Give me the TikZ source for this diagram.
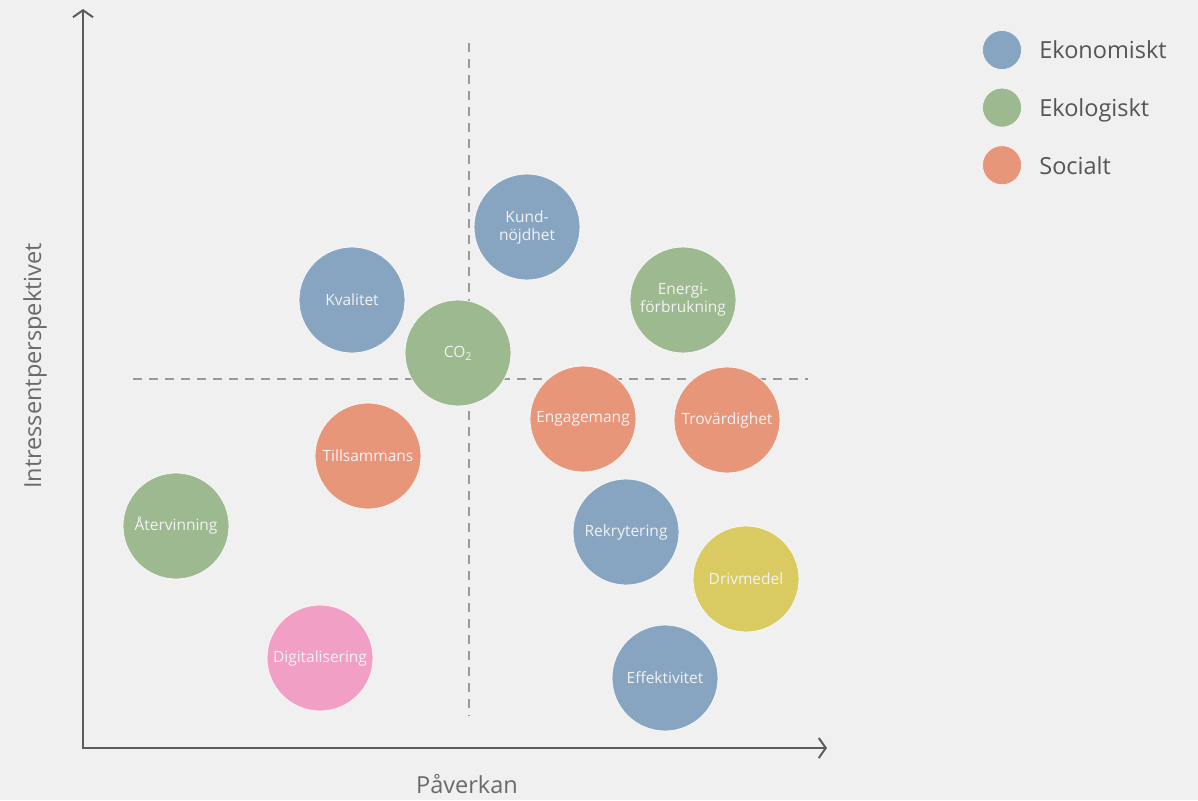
\documentclass[tikz,border=0pt]{standalone}
\usepackage{fontspec}
\setmainfont{Open Sans}
\usepackage{xcolor}
\usetikzlibrary{arrows.meta}
\usetikzlibrary{positioning}

\definecolor{bgGray}{HTML}{F0F0F0}
\definecolor{axisGray}{HTML}{5C5C5C}
\definecolor{dashGray}{HTML}{9A9A9A}
\definecolor{labelGray}{HTML}{6A6A6A}
\definecolor{ekoBlue}{HTML}{87A5C1}
\definecolor{ekoGreen}{HTML}{9DB98F}
\definecolor{socOrange}{HTML}{E8967A}
\definecolor{fuelYellow}{HTML}{D9CB62}
\definecolor{digiPink}{HTML}{F29FC6}

\tikzset{
  bubble/.style={circle, minimum size=106pt, inner sep=0pt, align=center,
    draw=white!55!bgGray, line width=0.8pt, text=white!95!black,
    font=\fontsize{15.5}{18}\selectfont},
  dot/.style={circle, minimum size=39pt, inner sep=0pt, draw=white!55!bgGray, line width=0.6pt},
  legendtext/.style={anchor=west, text=labelGray!80!black, text height=20pt, text depth=2pt,
    font=\fontsize{23.5}{26}\selectfont},
  axislabel/.style={text=labelGray, font=\fontsize{23.5}{26}\selectfont},
  axisline/.style={axisGray, line width=2pt, {Straight Barb[length=7pt,width=20pt]}-{Straight Barb[length=7pt,width=20pt]}},
  quadline/.style={dashGray, line width=1.8pt, dash pattern=on 9pt off 7pt}
}

\begin{document}
\begin{tikzpicture}[x=1pt, y=-1pt]
      
      \useasboundingbox[fill=bgGray] (0,0) rectangle (1198,800);
      
      % axes
      \coordinate (origin) at (83,748);
      \coordinate (xend) at (827,748);
      \coordinate (yend) at (83,9);
      \draw[axisline] (yend) -- (origin) -- (xend);
      
      \node[axislabel] (xlabel) at (467,784) {Påverkan};
      \node[axislabel, rotate=90] (ylabel) at (35,366) {Intressentperspektivet};
      
      % quadrants
      \coordinate (vtop) at (469,43);
      \coordinate (vbot) at (469,716);
      \coordinate (hleft) at (133,379);
      \coordinate (hright) at (808,379);
      \draw[quadline] (vtop) -- (vbot);
      \draw[quadline] (hleft) -- (hright);
      
      % bubbles
      \foreach \name/\x/\y/\col/\txt in {
          kund/527/227/ekoBlue/{Kund-\\nöjdhet},
          kvalitet/352/300/ekoBlue/{Kvalitet},
          energi/683/300/ekoGreen/{Energi-\\förbrukning},
          co/458/353/ekoGreen/{CO\textsubscript{2}},
          engagemang/583/419/socOrange/{Engagemang},
          trovardighet/727/420/socOrange/{Trovärdighet},
          tillsammans/368/456/socOrange/{Tillsammans},
          atervinning/176/526/ekoGreen/{Återvinning},
          rekrytering/626/532/ekoBlue/{Rekrytering},
          drivmedel/746/579/fuelYellow/{Drivmedel},
          digitalisering/320/658/digiPink/{Digitalisering},
          effektivitet/665/678/ekoBlue/{Effektivitet}}{
        \node[bubble, fill=\col] (\name) at (\x,\y) {\txt};
      }
      
      % legend
      \node[dot, fill=ekoBlue] (dotEkonomi) at (1002,50) {};
      \node[dot, fill=ekoGreen, below=18pt of dotEkonomi] (dotEkologi) {};
      \node[dot, fill=socOrange, below=18pt of dotEkologi] (dotSocial) {};
      \node[legendtext, right=14pt of dotEkonomi] (txtEkonomi) {Ekonomiskt};
      \node[legendtext, right=14pt of dotEkologi] (txtEkologi) {Ekologiskt};
      \node[legendtext, right=14pt of dotSocial] (txtSocial) {Socialt};
      
    \end{tikzpicture}
\end{document}
